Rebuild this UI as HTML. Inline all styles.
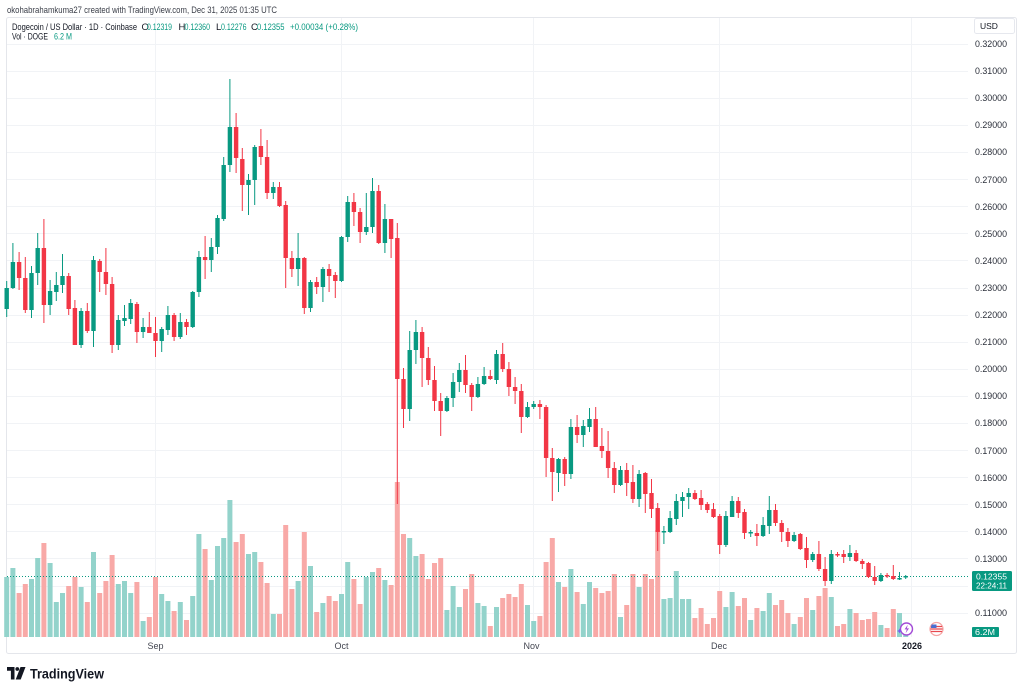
<!DOCTYPE html>
<html><head><meta charset="utf-8"><style>
html,body{margin:0;padding:0;background:#fff;width:1024px;height:691px;overflow:hidden}
svg{display:block}
text{font-family:"Liberation Sans",Arial,sans-serif}
</style></head><body>
<svg width="1024" height="691" viewBox="0 0 1024 691" xmlns="http://www.w3.org/2000/svg">
<rect width="1024" height="691" fill="#fff"/>
<!-- header -->
<text x="7" y="13" font-size="9.5" fill="#3a3e48" textLength="270" lengthAdjust="spacingAndGlyphs">okohabrahamkuma27 created with TradingView.com, Dec 31, 2025 01:35 UTC</text>
<!-- chart frame -->
<rect x="6.5" y="17.5" width="1010" height="636" fill="none" stroke="#e4e6eb" rx="2"/>
<!-- grid -->
<path d="M7 44.5H968M7 71.5H968M7 98.5H968M7 125.5H968M7 152.5H968M7 179.5H968M7 206.5H968M7 233.5H968M7 260.5H968M7 288.5H968M7 315.5H968M7 342.5H968M7 369.5H968M7 396.5H968M7 423.5H968M7 450.5H968M7 477.5H968M7 504.5H968M7 531.5H968M7 558.5H968M7 586.5H968M7 613.5H968M155.5 18V637M341.5 18V637M533.5 18V637M719.5 18V637M911.5 18V637" stroke="#f1f3f6" stroke-width="1" fill="none"/>
<!-- legend -->
<text y="30" font-size="9.5" fill="#131722"><tspan x="12" textLength="125" lengthAdjust="spacingAndGlyphs">Dogecoin / US Dollar · 1D · Coinbase</tspan></text>
<text y="30" font-size="9.5">
<tspan x="141.5" fill="#131722">O</tspan><tspan x="147" fill="#089981" textLength="25" lengthAdjust="spacingAndGlyphs">0.12319</tspan>
<tspan x="178.5" fill="#131722">H</tspan><tspan x="184.5" fill="#089981" textLength="25.5" lengthAdjust="spacingAndGlyphs">0.12360</tspan>
<tspan x="216" fill="#131722">L</tspan><tspan x="221" fill="#089981" textLength="25.5" lengthAdjust="spacingAndGlyphs">0.12276</tspan>
<tspan x="251" fill="#131722">C</tspan><tspan x="257" fill="#089981" textLength="27.5" lengthAdjust="spacingAndGlyphs">0.12355</tspan>
<tspan x="290" fill="#089981" textLength="68" lengthAdjust="spacingAndGlyphs">+0.00034 (+0.28%)</tspan></text>
<text y="39.5" font-size="9.5"><tspan x="12" fill="#131722" textLength="36" lengthAdjust="spacingAndGlyphs">Vol · DOGE</tspan><tspan x="54" fill="#089981" textLength="18" lengthAdjust="spacingAndGlyphs">6.2 M</tspan></text>
<!-- USD box -->
<rect x="974.5" y="18.5" width="40" height="15" rx="2" fill="#fff" stroke="#e6e8ee"/>
<text x="980" y="29" font-size="8.5" fill="#131722">USD</text>
<!-- price axis labels -->
<g font-size="9" fill="#2a2e39">
<text x="975" y="47" textLength="32" lengthAdjust="spacingAndGlyphs">0.32000</text>
<text x="975" y="74" textLength="32" lengthAdjust="spacingAndGlyphs">0.31000</text>
<text x="975" y="101" textLength="32" lengthAdjust="spacingAndGlyphs">0.30000</text>
<text x="975" y="128" textLength="32" lengthAdjust="spacingAndGlyphs">0.29000</text>
<text x="975" y="155" textLength="32" lengthAdjust="spacingAndGlyphs">0.28000</text>
<text x="975" y="183" textLength="32" lengthAdjust="spacingAndGlyphs">0.27000</text>
<text x="975" y="210" textLength="32" lengthAdjust="spacingAndGlyphs">0.26000</text>
<text x="975" y="237" textLength="32" lengthAdjust="spacingAndGlyphs">0.25000</text>
<text x="975" y="264" textLength="32" lengthAdjust="spacingAndGlyphs">0.24000</text>
<text x="975" y="291" textLength="32" lengthAdjust="spacingAndGlyphs">0.23000</text>
<text x="975" y="318" textLength="32" lengthAdjust="spacingAndGlyphs">0.22000</text>
<text x="975" y="345" textLength="32" lengthAdjust="spacingAndGlyphs">0.21000</text>
<text x="975" y="372" textLength="32" lengthAdjust="spacingAndGlyphs">0.20000</text>
<text x="975" y="399" textLength="32" lengthAdjust="spacingAndGlyphs">0.19000</text>
<text x="975" y="426" textLength="32" lengthAdjust="spacingAndGlyphs">0.18000</text>
<text x="975" y="454" textLength="32" lengthAdjust="spacingAndGlyphs">0.17000</text>
<text x="975" y="481" textLength="32" lengthAdjust="spacingAndGlyphs">0.16000</text>
<text x="975" y="508" textLength="32" lengthAdjust="spacingAndGlyphs">0.15000</text>
<text x="975" y="535" textLength="32" lengthAdjust="spacingAndGlyphs">0.14000</text>
<text x="975" y="562" textLength="32" lengthAdjust="spacingAndGlyphs">0.13000</text>
<text x="975" y="616" textLength="32" lengthAdjust="spacingAndGlyphs">0.11000</text>
</g>
<!-- volume -->
<path fill="#93d3cb" d="M4.2 577h5V637h-5zM10.4 568h5V637h-5zM29 579h5V637h-5zM35.2 558h5V637h-5zM47.6 563h5V637h-5zM53.8 602h5V637h-5zM60 593h5V637h-5zM78.6 587h5V637h-5zM91 552h5V637h-5zM115.8 584h5V637h-5zM122 581h5V637h-5zM128.2 593h5V637h-5zM140.6 621h5V637h-5zM159.2 594h5V637h-5zM165.4 601h5V637h-5zM177.8 602h5V637h-5zM190.2 596h5V637h-5zM196.4 534h5V637h-5zM208.8 580h5V637h-5zM215 546h5V637h-5zM221.2 538h5V637h-5zM227.4 500h5V637h-5zM246 554h5V637h-5zM252.2 552h5V637h-5zM270.8 614h5V637h-5zM295.6 581h5V637h-5zM308 566h5V637h-5zM320.4 603h5V637h-5zM339 594h5V637h-5zM345.2 562h5V637h-5zM363.8 577h5V637h-5zM370 572h5V637h-5zM382.4 580h5V637h-5zM407.2 538h5V637h-5zM413.4 556h5V637h-5zM444.4 610h5V637h-5zM450.6 586h5V637h-5zM456.8 607h5V637h-5zM475.4 603h5V637h-5zM481.6 606h5V637h-5zM494 607h5V637h-5zM525 605h5V637h-5zM531.2 621h5V637h-5zM556 582h5V637h-5zM568.4 569h5V637h-5zM580.8 604h5V637h-5zM587 582h5V637h-5zM618 617h5V637h-5zM636.6 587h5V637h-5zM661.4 599h5V637h-5zM667.6 598h5V637h-5zM673.8 571h5V637h-5zM680 599h5V637h-5zM686.2 599h5V637h-5zM723.4 607h5V637h-5zM729.6 592h5V637h-5zM748.2 620h5V637h-5zM760.6 611h5V637h-5zM766.8 593h5V637h-5zM791.6 624h5V637h-5zM810.2 610h5V637h-5zM828.8 597h5V637h-5zM847.4 609h5V637h-5zM878.4 625h5V637h-5zM897 613h5V637h-5zM903.2 630h5V637h-5z"/>
<path fill="#f8a9a7" d="M16.6 593h5V637h-5zM22.8 584h5V637h-5zM41.4 543h5V637h-5zM66.2 586h5V637h-5zM72.4 577h5V637h-5zM84.8 602h5V637h-5zM97.2 593h5V637h-5zM103.4 581h5V637h-5zM109.6 555h5V637h-5zM134.4 582h5V637h-5zM146.8 617h5V637h-5zM153 577h5V637h-5zM171.6 611h5V637h-5zM184 620h5V637h-5zM202.6 549h5V637h-5zM233.6 542h5V637h-5zM239.8 534h5V637h-5zM258.4 562h5V637h-5zM264.6 583h5V637h-5zM277 614h5V637h-5zM283.2 525h5V637h-5zM289.4 589h5V637h-5zM301.8 532h5V637h-5zM314.2 612h5V637h-5zM326.6 596h5V637h-5zM332.8 601h5V637h-5zM351.4 579h5V637h-5zM357.6 604h5V637h-5zM376.2 568h5V637h-5zM388.6 585h5V637h-5zM394.8 482h5V637h-5zM401 534h5V637h-5zM419.6 554h5V637h-5zM425.8 579h5V637h-5zM432 563h5V637h-5zM438.2 558h5V637h-5zM463 589h5V637h-5zM469.2 574h5V637h-5zM487.8 626h5V637h-5zM500.2 598h5V637h-5zM506.4 594h5V637h-5zM512.6 597h5V637h-5zM518.8 584h5V637h-5zM537.4 616h5V637h-5zM543.6 562h5V637h-5zM549.8 538h5V637h-5zM562.2 587h5V637h-5zM574.6 592h5V637h-5zM593.2 588h5V637h-5zM599.4 593h5V637h-5zM605.6 591h5V637h-5zM611.8 574h5V637h-5zM624.2 605h5V637h-5zM630.4 574h5V637h-5zM642.8 574h5V637h-5zM649 579h5V637h-5zM655.2 530h5V637h-5zM692.4 618h5V637h-5zM698.6 608h5V637h-5zM704.8 624h5V637h-5zM711 618h5V637h-5zM717.2 591h5V637h-5zM735.8 606h5V637h-5zM742 598h5V637h-5zM754.4 608h5V637h-5zM773 605h5V637h-5zM779.2 600h5V637h-5zM785.4 613h5V637h-5zM797.8 617h5V637h-5zM804 598h5V637h-5zM816.4 596h5V637h-5zM822.6 588h5V637h-5zM835 626h5V637h-5zM841.2 624h5V637h-5zM853.6 613h5V637h-5zM859.8 620h5V637h-5zM866 619h5V637h-5zM872.2 612h5V637h-5zM884.6 628h5V637h-5zM890.8 609h5V637h-5z"/>
<!-- current price line -->
<path d="M7 576.5H968" stroke="#089981" stroke-width="1" stroke-dasharray="1 2" fill="none"/>
<!-- green wicks -->
<path stroke="#089981" stroke-width="1" fill="none" d="M6.7 281V317M12.9 243V289M31.5 266V318M37.7 233V285M50.1 280V315M56.3 272V301M62.5 254V293M81.1 308V348M93.5 256V347M118.3 315V350M124.5 305V326M130.7 299V324M143.1 318V338M161.7 327V352M167.9 306V335M180.3 313V339M192.7 291V328M198.9 251V297M211.3 238V272M217.5 215V254M223.7 157V221M229.9 79V172M248.5 174V215M254.7 145V205M273.3 182V199M298.1 233V286M310.5 280V312M322.9 267V302M341.5 236V282M347.7 196V242M366.3 193V235M372.5 178V233M384.9 204V253M409.7 331V421M415.9 320V364M446.9 396V412M453.1 373V407M459.3 363V392M477.9 377V398M484.1 367V385M496.5 350V384M527.5 402V418M533.7 401V409M558.5 458V492M570.9 419V479M583.3 420V447M589.5 408V432M620.5 466V486M639.1 470V507M663.9 526V544M670.1 511V533M676.3 494V525M682.5 492V517M688.7 488V509M725.9 511V547M732.1 496V517M750.7 530V537M763.1 517V537M769.3 496V534M794.1 532V542M812.7 552V562M831.3 550V584M849.9 545V561M880.9 573V582M899.5 572V580M905.7 575V579"/>
<!-- green bodies -->
<path fill="#089981" d="M4.5 288h4.4V309h-4.4zM10.7 262h4.4V288h-4.4zM29.3 273h4.4V310h-4.4zM35.5 248h4.4V273h-4.4zM47.9 291h4.4V305h-4.4zM54.1 285h4.4V292h-4.4zM60.3 276h4.4V285h-4.4zM78.9 311h4.4V345h-4.4zM91.3 260h4.4V331h-4.4zM116.1 320h4.4V345h-4.4zM122.3 318h4.4V321h-4.4zM128.5 303h4.4V319h-4.4zM140.9 327h4.4V332h-4.4zM159.5 329h4.4V341h-4.4zM165.7 315h4.4V330h-4.4zM178.1 322h4.4V337h-4.4zM190.5 292h4.4V327h-4.4zM196.7 257h4.4V292h-4.4zM209.1 247h4.4V260h-4.4zM215.3 218h4.4V247h-4.4zM221.5 165h4.4V219h-4.4zM227.7 127h4.4V165h-4.4zM246.3 180h4.4V185h-4.4zM252.5 147h4.4V180h-4.4zM271.1 187h4.4V193h-4.4zM295.9 258h4.4V269h-4.4zM308.3 282h4.4V308h-4.4zM320.7 269h4.4V287h-4.4zM339.3 237h4.4V281h-4.4zM345.5 202h4.4V237h-4.4zM364.1 227h4.4V232h-4.4zM370.3 191h4.4V227h-4.4zM382.7 219h4.4V243h-4.4zM407.5 350h4.4V409h-4.4zM413.7 332h4.4V350h-4.4zM444.7 398h4.4V411h-4.4zM450.9 382h4.4V398h-4.4zM457.1 370h4.4V382h-4.4zM475.7 384h4.4V397h-4.4zM481.9 376h4.4V384h-4.4zM494.3 354h4.4V380h-4.4zM525.3 407h4.4V417h-4.4zM531.5 404h4.4V407h-4.4zM556.3 459h4.4V473h-4.4zM568.7 427h4.4V474h-4.4zM581.1 426h4.4V435h-4.4zM587.3 419h4.4V427h-4.4zM618.3 470h4.4V485h-4.4zM636.9 474h4.4V499h-4.4zM661.7 531h4.4V532.5h-4.4zM667.9 518h4.4V532h-4.4zM674.1 501h4.4V519h-4.4zM680.3 497h4.4V501h-4.4zM686.5 493h4.4V497h-4.4zM723.7 516h4.4V545h-4.4zM729.9 501h4.4V517h-4.4zM748.5 532h4.4V533.5h-4.4zM760.9 525h4.4V536h-4.4zM767.1 510h4.4V526h-4.4zM791.9 535h4.4V541h-4.4zM810.5 554h4.4V560h-4.4zM829.1 554h4.4V581h-4.4zM847.7 553h4.4V557h-4.4zM878.7 575h4.4V581h-4.4zM897.3 578h4.4V579.5h-4.4zM903.5 576h4.4V577.5h-4.4z"/>
<!-- red wicks -->
<path stroke="#f23645" stroke-width="1" fill="none" d="M19.1 252V290M25.3 257V313M43.9 219V323M68.7 273V315M74.9 300V345M87.3 303V333M99.7 259V292M105.9 248V295M112.1 277V353M136.9 302V343M149.3 312V333M155.5 317V357M174.1 313V341M186.5 319V335M205.1 236V279M236.1 113V173M242.3 148V211M260.9 129V165M267.1 140V199M279.5 182V207M285.7 201V288M291.9 251V277M304.3 257V314M316.7 277V294M329.1 264V292M335.3 272V298M353.9 193V226M360.1 208V243M378.7 185V244M391.1 219V258M397.3 223V504M403.5 368V428M422.1 327V387M428.3 347V385M434.5 366V411M440.7 393V436M465.5 355V393M471.7 383V411M490.3 370V380M502.7 343V372M508.9 362V396M515.1 377V404M521.3 384V433M539.9 400V419M546.1 405V477M552.3 448V501M564.7 457V486M577.1 415V443M595.7 407V447M601.9 428V458M608.1 431V478M614.3 462V493M626.7 463V496M632.9 465V503M645.3 472V513M651.5 479V518M657.7 503V551M694.9 490V500M701.1 490V510M707.3 502V513M713.5 503V518M719.7 514V554M738.3 497V518M744.5 509V539M756.9 524V546M775.5 504V526M781.7 520V542M787.9 528V547M800.3 533V550M806.5 537V568M818.9 541V571M825.1 557V586M837.5 552V557M843.7 550V563M856.1 550V562M862.3 559V569M868.5 562V578M874.7 566V585M887.1 573V578M893.3 565V580"/>
<!-- red bodies -->
<path fill="#f23645" d="M16.9 262h4.4V278h-4.4zM23.1 278h4.4V310h-4.4zM41.7 248h4.4V305h-4.4zM66.5 276h4.4V309h-4.4zM72.7 308h4.4V345h-4.4zM85.1 311h4.4V331h-4.4zM97.5 261h4.4V272h-4.4zM103.7 272h4.4V284h-4.4zM109.9 284h4.4V345h-4.4zM134.7 304h4.4V332h-4.4zM147.1 327h4.4V333h-4.4zM153.3 333h4.4V341h-4.4zM171.9 315h4.4V337h-4.4zM184.3 322h4.4V327h-4.4zM202.9 257h4.4V260h-4.4zM233.9 127h4.4V158h-4.4zM240.1 159h4.4V185h-4.4zM258.7 146h4.4V157h-4.4zM264.9 157h4.4V193h-4.4zM277.3 187h4.4V206h-4.4zM283.5 205h4.4V258h-4.4zM289.7 258h4.4V269h-4.4zM302.1 258h4.4V308h-4.4zM314.5 282h4.4V287h-4.4zM326.9 269h4.4V276h-4.4zM333.1 275h4.4V281h-4.4zM351.7 202h4.4V212h-4.4zM357.9 212h4.4V232h-4.4zM376.5 191h4.4V243h-4.4zM388.9 219h4.4V239h-4.4zM395.1 238h4.4V379h-4.4zM401.3 379h4.4V409h-4.4zM419.9 332h4.4V358h-4.4zM426.1 358h4.4V380h-4.4zM432.3 380h4.4V401h-4.4zM438.5 401h4.4V411h-4.4zM463.3 370h4.4V385h-4.4zM469.5 385h4.4V397h-4.4zM488.1 376h4.4V379h-4.4zM500.5 354h4.4V369h-4.4zM506.7 369h4.4V387h-4.4zM512.9 387h4.4V391h-4.4zM519.1 391h4.4V417h-4.4zM537.7 404h4.4V407h-4.4zM543.9 407h4.4V458h-4.4zM550.1 458h4.4V472h-4.4zM562.5 459h4.4V474h-4.4zM574.9 427h4.4V435h-4.4zM593.5 419h4.4V447h-4.4zM599.7 446h4.4V451h-4.4zM605.9 451h4.4V468h-4.4zM612.1 468h4.4V485h-4.4zM624.5 470h4.4V483h-4.4zM630.7 482h4.4V499h-4.4zM643.1 473h4.4V494h-4.4zM649.3 493h4.4V509h-4.4zM655.5 508h4.4V532h-4.4zM692.7 493h4.4V499h-4.4zM698.9 498h4.4V505h-4.4zM705.1 504h4.4V510h-4.4zM711.3 509h4.4V517h-4.4zM717.5 516h4.4V545h-4.4zM736.1 501h4.4V513h-4.4zM742.3 512h4.4V533h-4.4zM754.7 533h4.4V536h-4.4zM773.3 510h4.4V523h-4.4zM779.5 523h4.4V532h-4.4zM785.7 532h4.4V541h-4.4zM798.1 534h4.4V549h-4.4zM804.3 548h4.4V560h-4.4zM816.7 554h4.4V569h-4.4zM822.9 569h4.4V581h-4.4zM835.3 554h4.4V555.5h-4.4zM841.5 554h4.4V557h-4.4zM853.9 553h4.4V561h-4.4zM860.1 561h4.4V564h-4.4zM866.3 563h4.4V577h-4.4zM872.5 577h4.4V581h-4.4zM884.9 575h4.4V576.5h-4.4zM891.1 576h4.4V579h-4.4z"/>
<!-- icons -->
<circle cx="906.5" cy="629" r="6" fill="#fff" stroke="#a24bd6" stroke-width="1.4"/>
<path d="M907.8 624.8l-3.2 4.6h2.2l-1.2 3.8 3.4-4.8h-2.2z" fill="#a24bd6"/>
<path d="M899.5 628.5l0.8 1.7 1.7 0.8-1.7 0.8-0.8 1.7-0.8-1.7-1.7-0.8 1.7-0.8z" fill="#7a5af0"/>
<circle cx="936.5" cy="629" r="6.5" fill="#fff" stroke="#f6a3a3" stroke-width="1.2"/>
<path d="M931 626.5h11M930.5 629h12M931 631.5h11" stroke="#e8484f" stroke-width="1.3"/>
<path d="M931.5 624.5h5v3.5h-5.6z" fill="#4a6fd1"/>
<!-- price label -->
<rect x="972" y="571" width="40" height="20" rx="1.5" fill="#089981"/>
<text x="976" y="579.5" font-size="8.5" fill="#fff" textLength="31" lengthAdjust="spacingAndGlyphs">0.12355</text>
<text x="976" y="588.5" font-size="8.5" fill="#fff" textLength="31" lengthAdjust="spacingAndGlyphs">22:24:11</text>
<rect x="972" y="627" width="27" height="10" rx="1" fill="#089981"/>
<text x="975" y="635" font-size="8.5" fill="#fff" textLength="20" lengthAdjust="spacingAndGlyphs">6.2M</text>
<!-- time axis -->
<g font-size="9" fill="#434651">
<text x="155.5" y="649" text-anchor="middle">Sep</text>
<text x="341.5" y="649" text-anchor="middle">Oct</text>
<text x="531.5" y="649" text-anchor="middle">Nov</text>
<text x="719" y="649" text-anchor="middle">Dec</text>
<text x="912" y="649" text-anchor="middle" font-weight="bold" fill="#131722">2026</text>
</g>
<!-- logo -->
<path d="M7 667h7.5v12.5h-3.6v-8.7H7z" fill="#131722"/>
<circle cx="17.3" cy="669" r="1.9" fill="#131722"/>
<path d="M20.5 667h5l-4.8 12.5h-5z" fill="#131722"/>
<text x="30" y="678.5" font-size="14" font-weight="bold" fill="#131722" textLength="74" lengthAdjust="spacingAndGlyphs">TradingView</text>
</svg>
</body></html>
